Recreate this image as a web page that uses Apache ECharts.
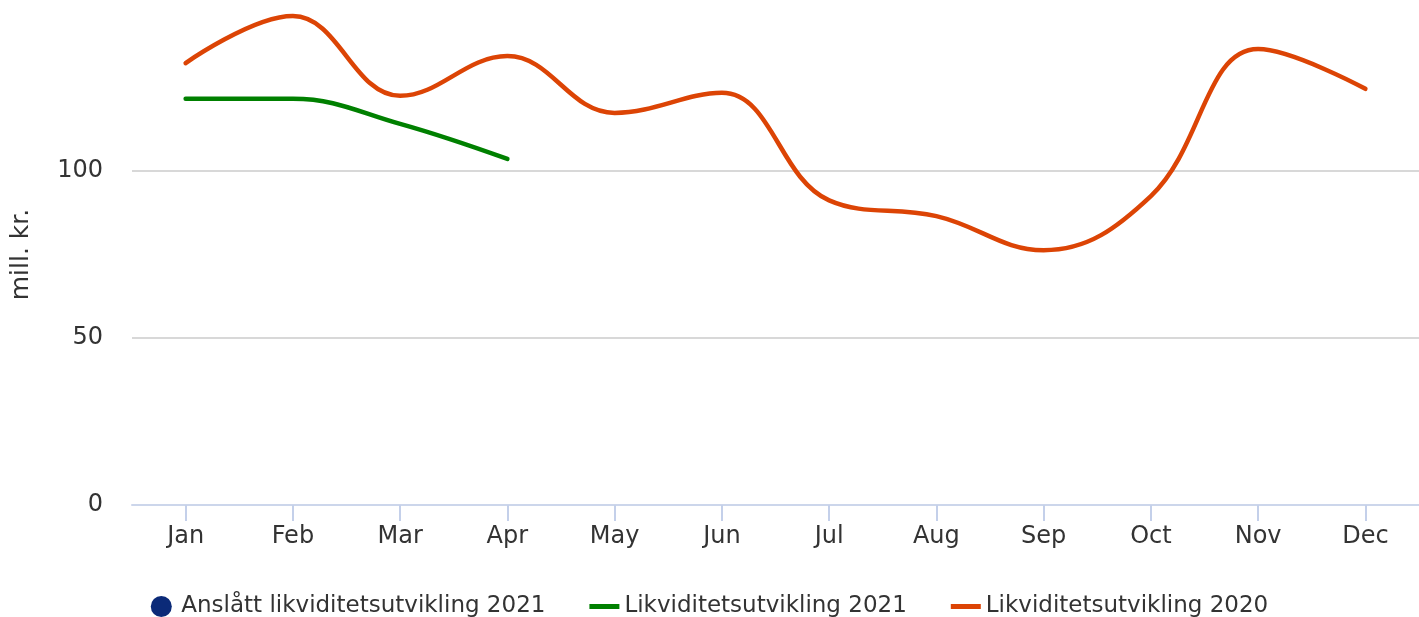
<!DOCTYPE html>
<html>
<head>
<meta charset="utf-8">
<script src="https://cdn.jsdelivr.net/npm/echarts@6/dist/echarts.min.js"></script>
<style>
  html, body { margin: 0; padding: 0; background: #fff; }
  #chart { width: 1419px; height: 617px; }
</style>
</head>
<body>
<div id="chart"></div>
<script>
const months = ['Jan', 'Feb', 'Mar', 'Apr', 'May', 'Jun', 'Jul', 'Aug', 'Sep', 'Oct', 'Nov', 'Dec']
const seriesNames = ['Anslått likviditetsutvikling 2021', 'Likviditetsutvikling 2021', 'Likviditetsutvikling 2020']
const forecast2021 = []
const actual2021 = [121.6, 121.6, 114.1, 103.6]
const actual2020 = [132.3, 146.4, 122.5, 134.4, 117.4, 123.4, 91.2, 86.5, 76.3, 92.5, 136.5, 124.6]
const yTicks = [0, 50, 100, 150]

const colors = ['#0b2a78', '#008000', '#dc4405']
const font = 'DejaVu Sans'
const barIcon = 'path://M0,0 H30 V5 H0 Z'

const chart = echarts.init(document.getElementById('chart'))

chart.setOption({
  animation: false,
  textStyle: { fontFamily: font },
  grid: { left: 132, right: 0, top: 4, bottom: 112 },
  legend: {
    top: 590,
    left: 'center',
    itemWidth: 30,
    itemHeight: 21,
    itemGap: 44,
    textStyle: { fontSize: 23, color: '#333', fontFamily: font },
    data: [
      { name: seriesNames[0], icon: 'circle' },
      { name: seriesNames[1], icon: barIcon },
      { name: seriesNames[2], icon: barIcon },
    ],
  },
  xAxis: {
    type: 'category',
    data: months,
    boundaryGap: true,
    axisLine: { lineStyle: { color: '#ccd6eb', width: 2 } },
    axisTick: { show: true, alignWithLabel: true, length: 16, lineStyle: { color: '#c4d0ea', width: 2 } },
    axisLabel: { fontSize: 24, color: '#333', margin: 20 },
  },
  yAxis: {
    type: 'value',
    min: yTicks[0],
    max: yTicks[yTicks.length - 1],
    interval: 50,
    name: 'mill. kr.',
    nameLocation: 'middle',
    nameGap: 98,
    nameRotate: 90,
    nameTextStyle: { fontSize: 25, color: '#333' },
    axisLine: { show: false },
    axisTick: { show: false },
    axisLabel: { fontSize: 24, color: '#333', margin: 29, showMaxLabel: false },
    splitLine: { showMaxLine: false, lineStyle: { color: '#d8d8d8', width: 2 } },
  },
  series: [
    {
      name: seriesNames[0],
      type: 'line',
      data: forecast2021,
      itemStyle: { color: colors[0] },
    },
    {
      name: seriesNames[1],
      type: 'line',
      data: actual2021,
      smooth: 0.4,
      symbol: 'none',
      lineStyle: { color: colors[1], width: 4.5, cap: 'round' },
      itemStyle: { color: colors[1] },
    },
    {
      name: seriesNames[2],
      type: 'line',
      data: actual2020,
      smooth: 0.4,
      symbol: 'none',
      lineStyle: { color: colors[2], width: 4.5, cap: 'round' },
      itemStyle: { color: colors[2] },
    },
  ],
})
</script>
</body>
</html>
